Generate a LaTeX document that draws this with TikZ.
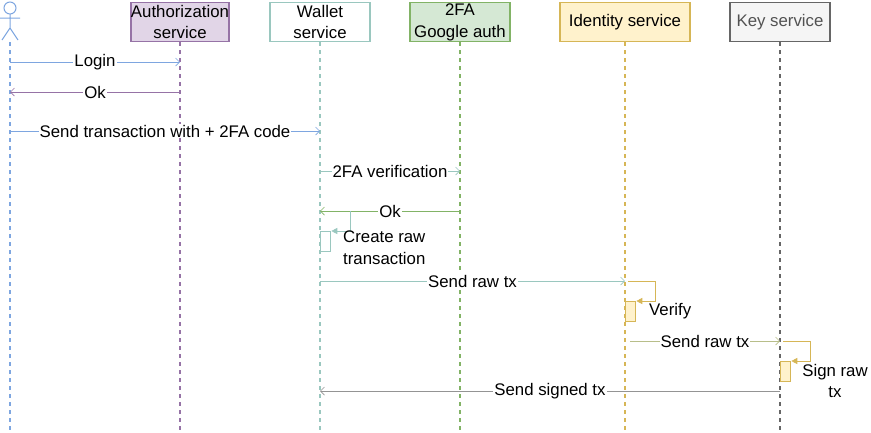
\documentclass[tikz,border=0pt]{standalone}
\usepackage{fontspec}
\setmainfont{Liberation Sans}
\usetikzlibrary{arrows.meta,calc}
\definecolor{cA}{HTML}{7EA6E0}
\definecolor{cP}{HTML}{9673A6}\definecolor{fP}{HTML}{E1D5E7}
\definecolor{cT}{HTML}{9AC7BF}
\definecolor{cG}{HTML}{82B366}\definecolor{fG}{HTML}{D5E8D4}
\definecolor{cY}{HTML}{D6B656}\definecolor{fY}{HTML}{FFF2CC}
\definecolor{cK}{HTML}{666666}\definecolor{fK}{HTML}{F5F5F5}
\begin{document}
\begin{tikzpicture}[x=1pt,y=-1pt,font=\fontsize{16.8}{21.5}\selectfont,
  hdr/.style={draw=#1,line width=1.3pt,minimum height=39pt,inner sep=0pt,align=center,anchor=north},
  life/.style={draw=#1,line width=1.3pt,dash pattern=on 4pt off 4pt},
  msg/.style={draw=#1,line width=0.7pt,-{Straight Barb[length=4pt,width=8pt]}},
  lbl/.style={fill=white,inner sep=1pt},
  act/.style={draw=#1,line width=1.3pt,minimum width=10pt,minimum height=20pt,inner sep=0pt,anchor=north west},
  self/.style={draw=#1,line width=0.7pt,-{Triangle[length=6pt,width=6pt]}}]
\useasboundingbox (0,0) rectangle (871,432);
% actor
\begin{scope}[draw=cA,line width=1pt]
\draw (10,8) circle (6);
\draw (10,14) -- (10,28) (0,18) -- (20,18) (10,28) -- (2,40) (10,28) -- (18,40);
\end{scope}
\coordinate (u) at (10,42);
\node[hdr=cP,fill=fP,minimum width=98pt] (auth) at (180,2) {Authorization\\service};
\node[hdr=cT,fill=white,minimum width=100pt] (wal) at (320,2) {Wallet\\service};
\node[hdr=cG,fill=fG,minimum width=100pt] (tfa) at (460,2) {2FA\\Google auth};
\node[hdr=cY,fill=fY,minimum width=130pt,minimum height=39pt] (ids) at (625,2) {Identity service};
\node[hdr=cK,fill=fK,minimum width=100pt,text=cK!80!black] (key) at (780,2) {Key service};
\draw[life=cA] (u) -- (10,432);
\draw[life=cP] (auth.south) -- (180,432);
\draw[life=cT] (wal.south) -- (320,432);
\draw[life=cG] (tfa.south) -- (460,432);
\draw[life=cY] (ids.south) -- (625,432);
\draw[life=cK] (key.south) -- (780,432);
% coordinates
\coordinate (u1) at (10,62); \coordinate (a1) at (180,62);
\coordinate (a2) at (180,92); \coordinate (u2) at (10,92);
\coordinate (u3) at (10,131); \coordinate (w3) at (320,131);
\coordinate (w4) at (320,171); \coordinate (t4) at (460,171);
\coordinate (t5) at (460,211); \coordinate (w5) at (320,211);
\coordinate (w6) at (320,281); \coordinate (i6) at (625,281);
\coordinate (i7) at (630,341); \coordinate (k7) at (780,341);
\coordinate (k8) at (780,391); \coordinate (w8) at (320,391);
\draw[msg=cA] (u1) -- node[lbl]{Login} (a1);
\draw[msg=cP] (a2) -- node[lbl]{Ok} (u2);
\draw[msg=cA] (u3) -- node[lbl]{Send transaction with + 2FA code} (w3);
\draw[msg=cT] (w4) -- node[lbl]{2FA verification} (t4);
\draw[msg=cG] (t5) -- node[lbl]{Ok} (w5);
\draw[msg=cT] (w6) -- node[lbl]{Send raw tx} (i6);
\draw[msg=cT!50!cY] (i7) -- node[lbl]{Send raw tx} (k7);
\draw[msg=cK!70] (k8) -- node[lbl]{Send signed tx} (w8);
% activations
\node[act=cT,fill=white] (wa) at (320,231) {};
\node[act=cY,fill=fY] (ia) at (625,301) {};
\node[act=cY,fill=fY] (ka) at (780,361) {};
\draw[self=cT] (350,211) -- (350,231) -- (wa.north east);
\draw[self=cY] (628,281) -- (655,281) -- (655,301) -- (ia.north east);
\draw[self=cY] (783,341) -- (810,341) -- (810,361) -- (ka.north east);
\node[anchor=north west,align=left,inner sep=0pt] (t1) at (343,231) {Create raw\\transaction};
\node[anchor=west,inner sep=0pt] (t2) at (649,311) {Verify};
\node[align=center,inner sep=0pt] (t3) at (835,381) {Sign raw\\tx};
\end{tikzpicture}
\end{document}
